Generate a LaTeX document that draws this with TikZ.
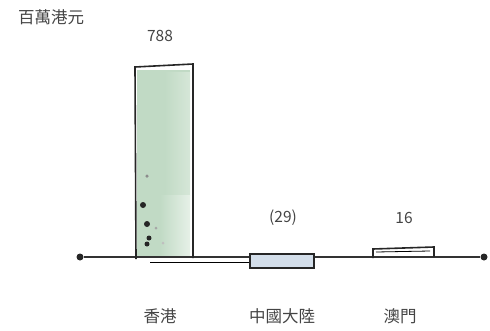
\documentclass[tikz,border=0pt]{standalone}
\usepackage{fontspec}
\setmainfont{Noto Sans CJK TC}
\definecolor{hkgreen}{HTML}{C1DAC5}
\definecolor{hklight}{HTML}{D6E7D8}
\definecolor{cnblue}{HTML}{D3DEEA}
\definecolor{txt}{HTML}{444444}
\begin{document}
\begin{tikzpicture}[x=1pt,y=-1pt,
  lbl/.style={text=txt,font=\fontsize{15.5}{17}\selectfont,inner sep=0pt},
  cat/.style={text=txt,font=\fontsize{16.5}{18}\selectfont,inner sep=0pt},
  sketch/.style={draw=black!85,line width=1.6pt},
  dotm/.style={circle,fill=black!85,inner sep=0pt,minimum size=7pt}]
\useasboundingbox (0,0) rectangle (490,330);
% Hong Kong bar fill
\fill[hkgreen] (137,70) rectangle (190,257);
\fill[left color=hkgreen,right color=hklight] (165,72) rectangle (190,195);
\fill[left color=hkgreen,right color=hklight!60!white] (160,195) rectangle (190,257);
% axis
\node[dotm] (L) at (80,257) {};
\node[dotm] (R) at (484,257) {};
\draw[line width=1.4pt,black!80] (L) -- (R);
% Hong Kong bar outline
\draw[sketch] (136,259) -- (135,67) -- (193,64) -- (193,258);
\draw[line width=0.9pt] (150,262) -- (250,262);
\node[dotm,minimum size=3.5pt,fill=black!45] (d1) at (147,176) {};
\node[dotm,minimum size=6pt] (d2) at (143,205) {};
\node[dotm,minimum size=6pt] (d3) at (147,224) {};
\node[dotm,minimum size=5pt] (d4) at (149,238) {};
\node[dotm,minimum size=5pt] (d5) at (147,244) {};
\node[dotm,minimum size=3pt,fill=black!35] (d6) at (156,228) {};
\node[dotm,minimum size=3pt,fill=black!25] (d7) at (163,243) {};
% China bar
\draw[sketch,fill=cnblue] (250,254) rectangle (314,268);
% Macau bar
\draw[sketch] (373,258) -- (373,249) -- (434,247) -- (434,257);
\draw[line width=0.8pt] (376,252) -- (430,251);
% values
\node[lbl] (v1) at (160,36) {788};
\node[lbl] (v2) at (283,218) {(29)};
\node[lbl] (v3) at (404,218) {16};
\node[cat] (unit) at (51,17) {百萬港元};
% categories
\node[cat] (c1) at (160,316) {香港};
\node[cat] (c2) at (282,316) {中國大陸};
\node[cat] (c3) at (400,316) {澳門};
\end{tikzpicture}
\end{document}
